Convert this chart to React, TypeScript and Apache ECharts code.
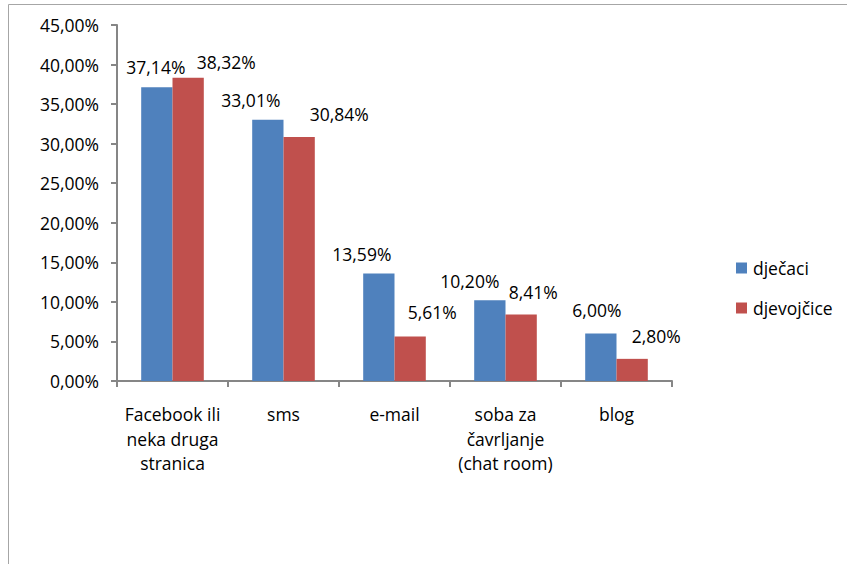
import React, { useEffect, useRef } from "react";
import * as echarts from "echarts";

const categories = [
  "Facebook ili\nneka druga\nstranica",
  "sms",
  "e-mail",
  "soba za\nčavrljanje\n(chat room)",
  "blog",
];
const seriesNames = ["dječaci", "djevojčice"];
const boysValues = [37.14, 33.01, 13.59, 10.2, 6.0];
const girlsValues = [38.32, 30.84, 5.61, 8.41, 2.8];
const yTickMax = 45;
const yTickStep = 5;

// label nudges (style only, in px)
const boysLabelShift = [[-1, 0], [-17, 0], [-17, 1], [-20, 1], [-4, -4]];
const girlsLabelShift = [[38, 4], [40, -3], [22, -5], [12, -2], [24, -3]];

const FONT = "'Open Sans', 'Noto Sans', sans-serif";
const FS = 17.5;
const fmt = (v: number) => v.toFixed(2).replace(".", ",") + "%";

export default function App() {
  const ref = useRef<HTMLDivElement>(null);
  useEffect(() => {
    if (!ref.current) return;
    const chart = echarts.init(ref.current, undefined, { renderer: "svg" });
    const mk = (vals: number[], shifts: number[][]) =>
      vals.map((v, i) => ({ value: v, label: { offset: shifts[i] } }));
    const labelCfg = {
      show: true,
      position: "top",
      distance: 11,
      color: "#000",
      fontFamily: FONT,
      fontSize: FS,
      formatter: (p: any) => fmt(p.value),
    };
    chart.setOption({
      animation: false,
      backgroundColor: "#ffffff",
      textStyle: { fontFamily: FONT },
      graphic: [
        {
          type: "rect",
          shape: { x: 8.5, y: 4.5, width: 900, height: 700 },
          style: { fill: "none", stroke: "#a6a6a6", lineWidth: 1 },
          silent: true,
        },
      ],
      grid: { left: 117, right: 175, top: 25, bottom: 183, containLabel: false },
      legend: {
        orient: "vertical",
        left: 736,
        top: 259,
        padding: 0,
        itemWidth: 11,
        itemHeight: 11,
        itemGap: 22,
        icon: "rect",
        textStyle: { fontFamily: FONT, fontSize: FS, color: "#000", lineHeight: 16, padding: [0, 0, 0, 1] },
        data: seriesNames,
      },
      xAxis: {
        type: "category",
        data: categories,
        axisLine: { lineStyle: { color: "#868686", width: 2 } },
        axisTick: { show: true, length: 6, lineStyle: { color: "#868686", width: 2 } },
        axisLabel: {
          color: "#000",
          fontFamily: FONT,
          fontSize: FS,
          lineHeight: 24.5,
          margin: 21,
          interval: 0,
        },
      },
      yAxis: {
        type: "value",
        min: 0,
        max: yTickMax,
        interval: yTickStep,
        splitLine: { show: false },
        axisLine: { show: true, lineStyle: { color: "#868686", width: 2 } },
        axisTick: { show: true, length: 6, lineStyle: { color: "#868686", width: 2 } },
        axisLabel: {
          color: "#000",
          fontFamily: FONT,
          fontSize: FS,
          margin: 18,
          formatter: (v: number) => fmt(v),
        },
      },
      series: [
        {
          name: seriesNames[0],
          type: "bar",
          data: mk(boysValues, boysLabelShift),
          itemStyle: { color: "#4F81BD" },
          barGap: "0%",
          barCategoryGap: "43.6%",
          label: labelCfg,
        },
        {
          name: seriesNames[1],
          type: "bar",
          data: mk(girlsValues, girlsLabelShift),
          itemStyle: { color: "#C0504D" },
          barGap: "0%",
          barCategoryGap: "43.6%",
          label: labelCfg,
        },
      ],
    });
    return () => chart.dispose();
  }, []);
  return (
    <div
      ref={ref}
      style={{ position: "absolute", left: 0, top: 0, width: 847, height: 564 }}
    />
  );
}
